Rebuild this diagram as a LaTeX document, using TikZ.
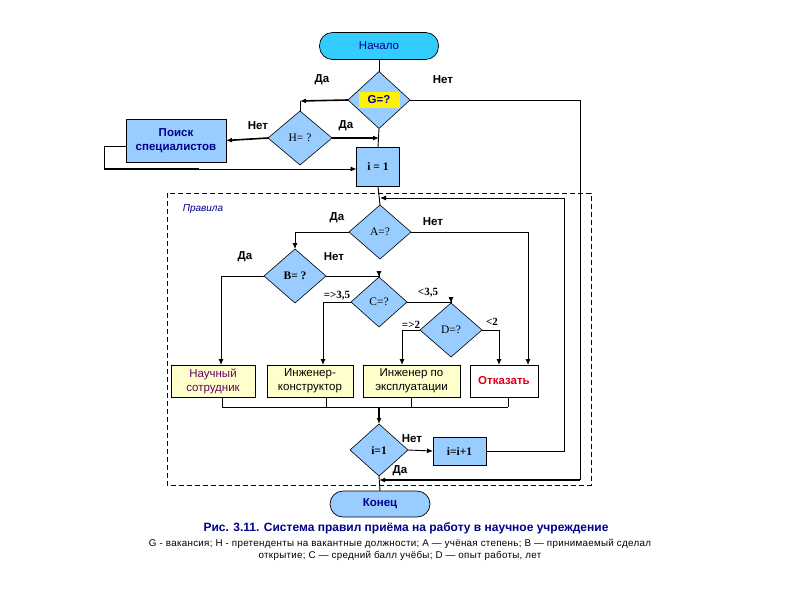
\documentclass[tikz,border=0pt]{standalone}
\usepackage{fontspec}
\setmainfont{Liberation Sans}
\newfontfamily\serifF{Liberation Serif}
\newfontfamily\spacedF[LetterSpace=3]{Liberation Sans}
\usetikzlibrary{shapes.geometric,arrows.meta,calc}
\definecolor{cyanF}{RGB}{51,204,255}
\definecolor{lblue}{RGB}{153,204,255}
\definecolor{lyel}{RGB}{255,255,204}
\definecolor{navyT}{RGB}{0,0,140}
\definecolor{purpT}{RGB}{102,0,102}
\definecolor{redT}{RGB}{220,0,20}
\begin{document}
\begin{tikzpicture}[x=1pt,y=-1pt,
  every node/.style={inner sep=0pt, outer sep=0pt},
  ln/.style={line width=0.9pt},
  thk/.style={line width=1.6pt},
  arr/.style={ln,-{Latex[length=6pt,width=5pt]}},
  tarr/.style={thk,-{Latex[length=6pt,width=5pt]}},
  dia/.style={diamond, draw, fill=lblue, line width=0.6pt, font=\serifF\fontsize{11.5}{13}\selectfont},
  term/.style={draw, rounded corners=13pt, line width=0.7pt, font=\fontsize{11.5}{13}\selectfont, text=navyT},
  bbox/.style={draw, line width=0.6pt, align=center, font=\fontsize{11.5}{14}\selectfont},
  lbl/.style={font=\bfseries\fontsize{11.5}{12}\selectfont},
  slbl/.style={font=\serifF\bfseries\fontsize{11}{12}\selectfont},
]
\useasboundingbox (0,0) rectangle (794,595);

% dashed frame
\draw[line width=0.7pt, dash pattern=on 5pt off 3pt] (167,193) rectangle (591,485);
\node[font=\itshape\fontsize{10}{12}\selectfont, text=navyT] (rules) at (203,209) {Правила};

% nodes
\node[term, fill=cyanF, minimum width=119pt, minimum height=27pt] (start) at (379,46) {Начало};
\node[dia, minimum width=62pt, minimum height=57pt] (G) at (379,100) {};
\node[fill=yellow, minimum width=41pt, minimum height=16pt, font=\bfseries\fontsize{11.5}{13}\selectfont, text=navyT] (Gl) at (G) {G=?};
\node[dia, minimum width=64pt, minimum height=54pt] (H) at (300,138) {H= ?};
\node[bbox, fill=lblue, minimum width=100pt, minimum height=43pt, text=navyT, font=\bfseries\fontsize{11.5}{14}\selectfont] (poisk) at (176,140.5) {Поиск\\специалистов};
\node[draw, fill=lblue, line width=0.6pt, minimum width=43pt, minimum height=39pt, font=\serifF\bfseries\fontsize{11.5}{13}\selectfont] (i1) at (378,167) {i = 1};

\node[dia, minimum width=62pt, minimum height=54pt] (A) at (380,232) {A=?};
\node[dia, minimum width=62pt, minimum height=54pt, font=\serifF\bfseries\fontsize{11.5}{13}\selectfont] (B) at (295,276) {B= ?};
\node[dia, minimum width=56pt, minimum height=50pt] (C) at (379,302) {C=?};
\node[dia, minimum width=62pt, minimum height=54pt] (D) at (451,330) {D=?};

\node[bbox, fill=lyel, minimum width=84pt, minimum height=32pt, text=purpT] (sci) at (213,381) {Научный\\сотрудник};
\node[bbox, fill=lyel, minimum width=86pt, minimum height=32pt] (eng) at (310,381) {Инженер-\\конструктор};
\node[bbox, fill=lyel, minimum width=97pt, minimum height=32pt] (expl) at (411.5,381) {Инженер по\\эксплуатации};
\node[bbox, fill=white, minimum width=68pt, minimum height=32pt, text=redT, font=\bfseries\fontsize{11.5}{14}\selectfont] (ref) at (504,381) {Отказать};

\node[dia, minimum width=58pt, minimum height=52pt, font=\serifF\bfseries\fontsize{11.5}{13}\selectfont] (i1d) at (379,450) {i=1};
\node[draw, fill=lblue, line width=0.6pt, minimum width=53pt, minimum height=28pt, font=\serifF\bfseries\fontsize{11.5}{13}\selectfont] (ii) at (459.5,451) {i=i+1};
\node[term, fill=lblue, minimum width=100pt, minimum height=26pt, font=\bfseries\fontsize{11.5}{13}\selectfont] (fin) at (380,504) {Конец};

% coordinates
\coordinate (gcorner) at (300,101);
\coordinate (gR) at (580,480);
\coordinate (jn) at (379,480);
\coordinate (loopR) at (564,198);
\coordinate (loopT) at (380,198);
\coordinate (pL) at (104,146);
\coordinate (joinL) at (222,407);
\coordinate (joinR) at (508,407);
\coordinate (joinM) at (379,407);

% connectors top
\draw[ln] (start.south) -- (G.north);
\draw[tarr] (G.west) -- (gcorner);
\draw[ln] (gcorner) -- (H.north);
\draw[tarr] (H.west) -- (poisk.east);
\draw[tarr] (H.east) -- (H.east -| G.south);
\draw[ln] (G.south) -- (i1.north);
\draw[ln] ([yshift=-5.5pt]poisk.west) -- (pL);
\draw[arr] (pL) |- ([yshift=-2pt]i1.west);
\draw[thk] (pL |- i1.west) ++(0,2) -- ++(95,0);
\draw[ln] (G.east) -| (gR);
\draw[tarr] (gR) -- (jn);
\draw[ln] (i1.south) -- (A.north);
\draw[arr] (ii.east) -| (loopR) -- (loopT);

% inside
\draw[arr] (A.west) -| (B.north);
\draw[arr] (A.east) -| ([xshift=24pt]ref.north);
\draw[arr] (B.west) -| ([xshift=8pt]sci.north);
\draw[arr] (B.east) -| (C.north);
\draw[arr] (C.west) -| ([xshift=13pt]eng.north);
\draw[arr] (C.east) -| (D.north);
\draw[arr] (D.west) -| ([xshift=-9.5pt]expl.north);
\draw[arr] (D.east) -| ([xshift=-5pt]ref.north);

% join
\draw[ln] ([xshift=9pt]sci.south) -- (joinL);
\draw[ln] ([xshift=16pt]eng.south) -- ++(0,10);
\draw[ln] (expl.south) -- ++(0,10);
\draw[ln] ([xshift=4pt]ref.south) -- (joinR);
\draw[ln] (joinL) -- (joinR);
\draw[tarr] (joinM) -- (i1d.north);
\draw[arr] (i1d.east) -- (ii.west);
\draw[ln] (i1d.south) -- (fin.north);

% labels
\node[lbl] (lG1) at (322,80) {Да};
\node[lbl] (lG2) at (443,80) {Нет};
\node[lbl] (lH1) at (258,126) {Нет};
\node[lbl] (lH2) at (346,126) {Да};
\node[lbl] (lA1) at (337,218) {Да};
\node[lbl] (lA2) at (433,222) {Нет};
\node[lbl] (lB1) at (245,257) {Да};
\node[lbl] (lB2) at (334,257) {Нет};
\node[slbl] (lC1) at (337,296) {=>3,5};
\node[slbl] (lC2) at (428,293) {<3,5};
\node[slbl] (lD1) at (411,325) {=>2};
\node[slbl] (lD2) at (492,322) {<2};
\node[lbl] (lI1) at (412,439) {Нет};
\node[lbl] (lI2) at (400,471) {Да};

% caption
\node[font=\bfseries\fontsize{12}{13}\selectfont, text=navyT] (cap) at (406,528) {Рис. 3.11. Система правил приёма на работу в научное учреждение};
\node[font=\spacedF\fontsize{9.8}{11.5}\selectfont, align=center] (cap2) at (400,550) {G - вакансия; H - претенденты на вакантные должности; A — учёная степень; B — принимаемый сделал\\открытие; C — средний балл учёбы; D — опыт работы, лет};
\end{tikzpicture}
\end{document}
